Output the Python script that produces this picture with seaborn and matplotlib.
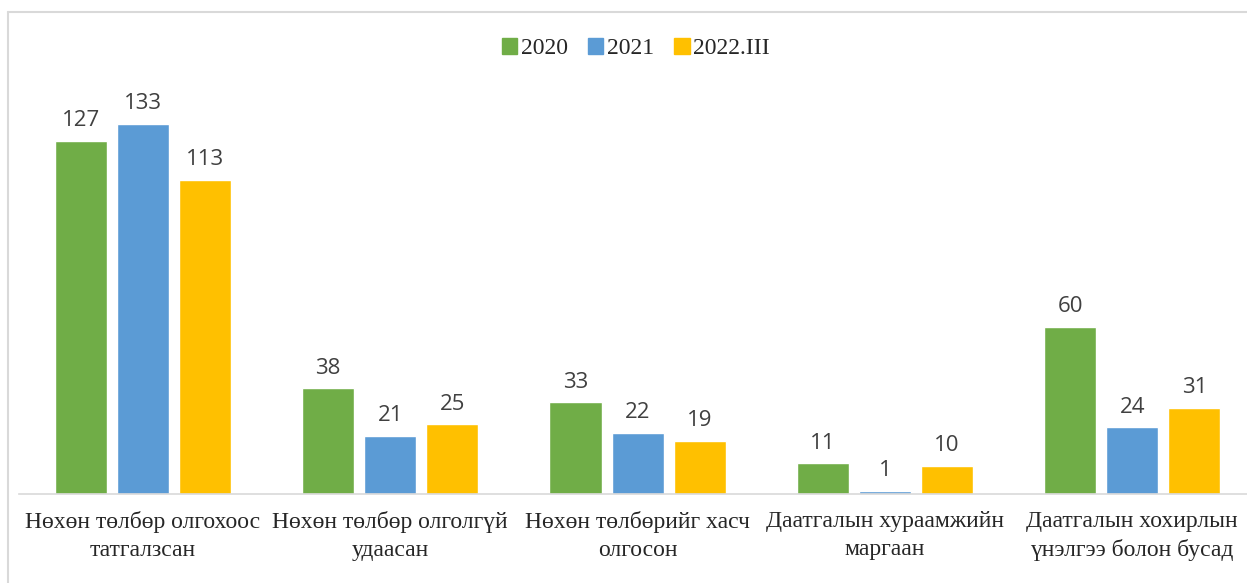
import matplotlib
matplotlib.use("Agg")
import matplotlib.pyplot as plt
import pandas as pd
import seaborn as sns

# Data
categories = ["Нөхөн төлбөр олгохоос\nтатгалзсан",
              "Нөхөн төлбөр олголгүй\nудаасан",
              "Нөхөн төлбөрийг хасч\nолгосон",
              "Даатгалын хураамжийн\nмаргаан",
              "Даатгалын хохирлын\nүнэлгээ болон бусад"]
years = ["2020", "2021", "2022.III"]
v2020 = [127, 38, 33, 11, 60]
v2021 = [133, 21, 22, 1, 24]
v2022 = [113, 25, 19, 10, 31]
colors = ["#70AD47", "#5B9BD5", "#FFC000"]

df = pd.DataFrame({
    "cat": categories * 3,
    "year": [y for y in years for _ in categories],
    "value": v2020 + v2021 + v2022,
})

sns.set_style("white")
fig = plt.figure(figsize=(12.47, 5.83), dpi=100)
ax = fig.add_axes([0.0155, 0.1527, 0.9916, 0.763])

sns.barplot(data=df, x="cat", y="value", hue="year", palette=colors,
            width=0.753, gap=0.16, ax=ax, saturation=1, legend=False)

for cont in ax.containers:
    ax.bar_label(cont, padding=7, fontsize=16, color="#404040",
                 family=["Open Sans", "DejaVu Sans"])

ax.set_ylim(0, 160)
ax.set_xlabel("")
ax.set_ylabel("")
ax.set_yticks([])
ax.tick_params(axis="x", length=0, pad=12)
for lab in ax.get_xticklabels():
    lab.set_fontfamily("Liberation Serif")
    lab.set_fontsize(17)
    lab.set_linespacing(1.45)
for s in ["top", "right", "left"]:
    ax.spines[s].set_visible(False)
ax.spines["bottom"].set_color("#d9d9d9")
ax.spines["bottom"].set_linewidth(1.2)

handles = [plt.Rectangle((0, 0), 1, 1, color=c) for c in colors]
fig.legend(handles, years, loc="center", bbox_to_anchor=(0.51, 0.917),
           ncol=3, frameon=False, prop={"family": "Liberation Serif", "size": 17},
           handlelength=0.65, handleheight=0.65, handletextpad=0.15, columnspacing=0.85)

# light gray chart-area border
fig.add_artist(plt.Line2D([7.5 / 1247, 7.5 / 1247], [0, 1 - 11.5 / 583],
                          color="#d9d9d9", lw=1.5, transform=fig.transFigure))
fig.add_artist(plt.Line2D([7.5 / 1247, 1], [1 - 11.5 / 583, 1 - 11.5 / 583],
                          color="#d9d9d9", lw=1.5, transform=fig.transFigure))

fig.savefig("out.png", dpi=100)
